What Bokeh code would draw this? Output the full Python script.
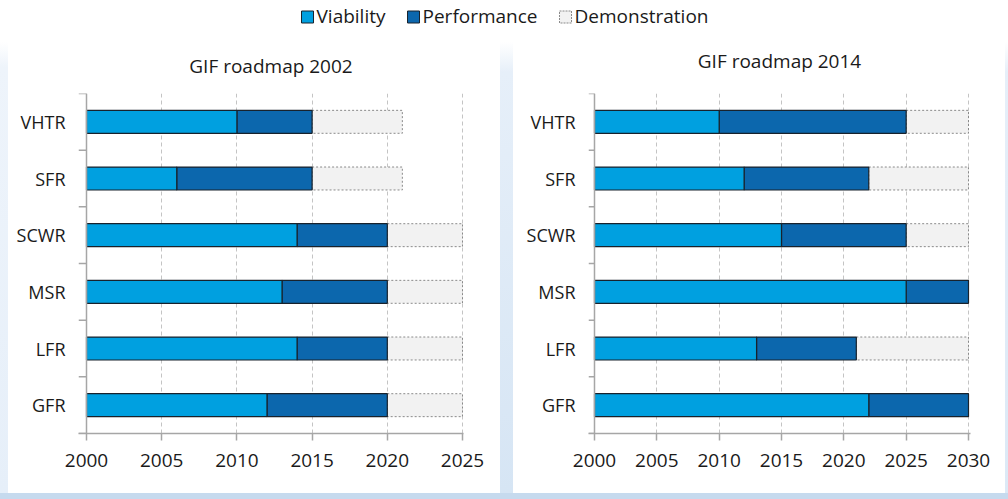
from bokeh.plotting import figure
from bokeh.models import (Range1d, FactorRange, FixedTicker, Span, Legend, LegendItem,
                          Div, ColumnDataSource, Title)
from bokeh.layouts import row, column
from bokeh.embed import file_html
from bokeh.resources import INLINE

# ---------------- data ----------------
reactors = ["VHTR", "SFR", "SCWR", "MSR", "LFR", "GFR"]
start_year = 2000

viability_end_2002 = [2010, 2006, 2014, 2013, 2014, 2012]
performance_end_2002 = [2015, 2015, 2020, 2020, 2020, 2020]
demonstration_end_2002 = [2021, 2021, 2025, 2025, 2025, 2025]

viability_end_2014 = [2010, 2012, 2015, 2025, 2013, 2022]
performance_end_2014 = [2025, 2022, 2025, 2030, 2021, 2030]
demonstration_end_2014 = [2030, 2030, 2030, 2030, 2030, 2030]

x_ticks_2002 = [2000, 2005, 2010, 2015, 2020, 2025]
x_ticks_2014 = [2000, 2005, 2010, 2015, 2020, 2025, 2030]

titles = ["GIF roadmap 2002", "GIF roadmap 2014"]
series_names = ["Viability", "Performance", "Demonstration"]

# ---------------- style ----------------
FONT = "Open Sans"
TXT = "#1a1a1a"
C_VIA = "#00a0e0"
C_PERF = "#0c67ad"
C_DEMO = "#f2f2f2"
C_DEMO_LINE = "#8a8a8a"
C_BAR_LINE = "#18222c"
C_AXIS = "#a6a6a6"
BAR_H = 0.405


def make_panel(title, v_end, p_end, d_end, ticks, x_start, x_end,
               width, height, b_left, b_right, b_top, b_bottom, title_gap):
    src = ColumnDataSource(dict(
        reactor=reactors,
        start=[start_year] * len(reactors),
        v=v_end, p=p_end, d=d_end,
    ))
    p = figure(width=width, height=height,
               x_range=Range1d(x_start, x_end),
               y_range=FactorRange(factors=list(reversed(reactors)), range_padding=0),
               toolbar_location=None, output_backend="svg",
               min_border_left=b_left, min_border_right=b_right,
               min_border_top=b_top, min_border_bottom=b_bottom,
               background_fill_color="white", border_fill_color="white",
               outline_line_color=None)

    # title: a thin blank spacer panel next to the plot area, then the title text
    p.add_layout(Title(text=" ", text_font_size="6px", standoff=title_gap), "above")
    p.add_layout(Title(text=title, align="center", text_font=FONT,
                       text_font_size="19px", text_font_style="normal",
                       text_color=TXT, standoff=2), "above")

    p.ygrid.visible = False
    p.xgrid.ticker = FixedTicker(ticks=ticks)
    p.xgrid.grid_line_color = "#c4c4c4"
    p.xgrid.grid_line_dash = "4 3"
    p.xgrid.grid_line_width = 1

    p.xaxis.ticker = FixedTicker(ticks=ticks)
    p.xaxis.axis_line_color = C_AXIS
    p.xaxis.axis_line_width = 1.5
    p.xaxis.major_tick_line_color = C_AXIS
    p.xaxis.major_tick_line_width = 1.5
    p.xaxis.major_tick_out = 7
    p.xaxis.major_tick_in = 0
    p.xaxis.minor_tick_line_color = None
    p.xaxis.major_label_standoff = 13
    p.xaxis.major_label_text_font = FONT
    p.xaxis.major_label_text_font_size = "19px"
    p.xaxis.major_label_text_color = TXT

    p.yaxis.axis_line_color = None
    p.yaxis.major_tick_line_color = None
    p.yaxis.major_tick_out = 0
    p.yaxis.major_tick_in = 0
    p.yaxis.minor_tick_line_color = None
    p.yaxis.major_label_standoff = 13
    p.yaxis.major_label_text_font = FONT
    p.yaxis.major_label_text_font_size = "18px"
    p.yaxis.major_label_text_color = TXT

    p.hbar(y="reactor", left="p", right="d", height=BAR_H, source=src,
           fill_color=C_DEMO, line_color=C_DEMO_LINE, line_dash="2 2", line_width=1)
    p.hbar(y="reactor", left="v", right="p", height=BAR_H, source=src,
           fill_color=C_PERF, line_color=C_BAR_LINE, line_width=1.2)
    p.hbar(y="reactor", left="start", right="v", height=BAR_H, source=src,
           fill_color=C_VIA, line_color=C_BAR_LINE, line_width=1.2)

    # value-axis line at the first year and category boundary ticks
    p.add_layout(Span(location=start_year, dimension="height",
                      line_color=C_AXIS, line_width=1.5))
    n = len(reactors)
    bounds = list(range(n + 1))
    p.segment(x0=[x_start] * (n + 1), x1=[start_year] * (n + 1),
              y0=bounds, y1=bounds, line_color=C_AXIS, line_width=1.5)
    return p


PANEL_H = 451
left = make_panel(titles[0], viability_end_2002, performance_end_2002,
                  demonstration_end_2002, x_ticks_2002, 1999.468, 2025.066,
                  width=492, height=PANEL_H, b_left=70, b_right=37, b_top=51,
                  b_bottom=60, title_gap=6)
right = make_panel(titles[1], viability_end_2014, performance_end_2014,
                   demonstration_end_2014, x_ticks_2014, 1999.519, 2030.16,
                   width=492, height=PANEL_H, b_left=75, b_right=35, b_top=51,
                   b_bottom=57, title_gap=11)

# ---------------- legend strip ----------------
lp = figure(width=1008, height=42, x_range=Range1d(0, 1), y_range=Range1d(0, 1),
            toolbar_location=None, output_backend="svg", min_border=0,
            outline_line_color=None, background_fill_color="white",
            border_fill_color="white")
lp.xaxis.visible = False
lp.yaxis.visible = False
lp.grid.visible = False
# placeholder renderers (outside the visible range) that only feed the legend
r_v = lp.hbar(y=[-5], left=[-5], right=[-4], height=0.1, fill_color=C_VIA,
              line_color=C_BAR_LINE, line_width=1)
r_p = lp.hbar(y=[-5], left=[-5], right=[-4], height=0.1, fill_color=C_PERF,
              line_color=C_BAR_LINE, line_width=1)
r_d = lp.hbar(y=[-5], left=[-5], right=[-4], height=0.1, fill_color=C_DEMO,
              line_color=C_DEMO_LINE, line_dash="2 1", line_width=1)
legend = Legend(items=[LegendItem(label=series_names[0], renderers=[r_v]),
                       LegendItem(label=series_names[1], renderers=[r_p]),
                       LegendItem(label=series_names[2], renderers=[r_d])],
                orientation="horizontal", location="top",
                glyph_width=15, glyph_height=15, label_standoff=2, spacing=20,
                border_line_color=None, background_fill_alpha=0,
                label_text_font=FONT, label_text_font_size="19px",
                label_text_color=TXT, padding=0, margin=3)
lp.add_layout(legend, "center")

# light-blue frame bands around the two panels
band_left = Div(width=8, height=PANEL_H, margin=0, styles={
    "background": "linear-gradient(to bottom, #ffffff 0px, #eef4fb 25px, #e6eff9 100%)"})
gap = Div(width=13, height=PANEL_H, margin=0, styles={
    "background": "linear-gradient(to bottom, #ffffff 0px, #e6eff9 30px, #d6e5f4 100%)"})
band_right = Div(width=3, height=PANEL_H, margin=0, styles={
    "background": "linear-gradient(to bottom, #ffffff 0px, #e6eff9 30px, #dce9f6 100%)"})
band_bottom = Div(width=1008, height=6, margin=0, styles={"background": "#c6daee"})

layout = column(lp,
                row(band_left, left, gap, right, band_right, spacing=0),
                band_bottom, spacing=0)

html = file_html(layout, INLINE)
with open("out.html", "w") as f:
    f.write(html)
